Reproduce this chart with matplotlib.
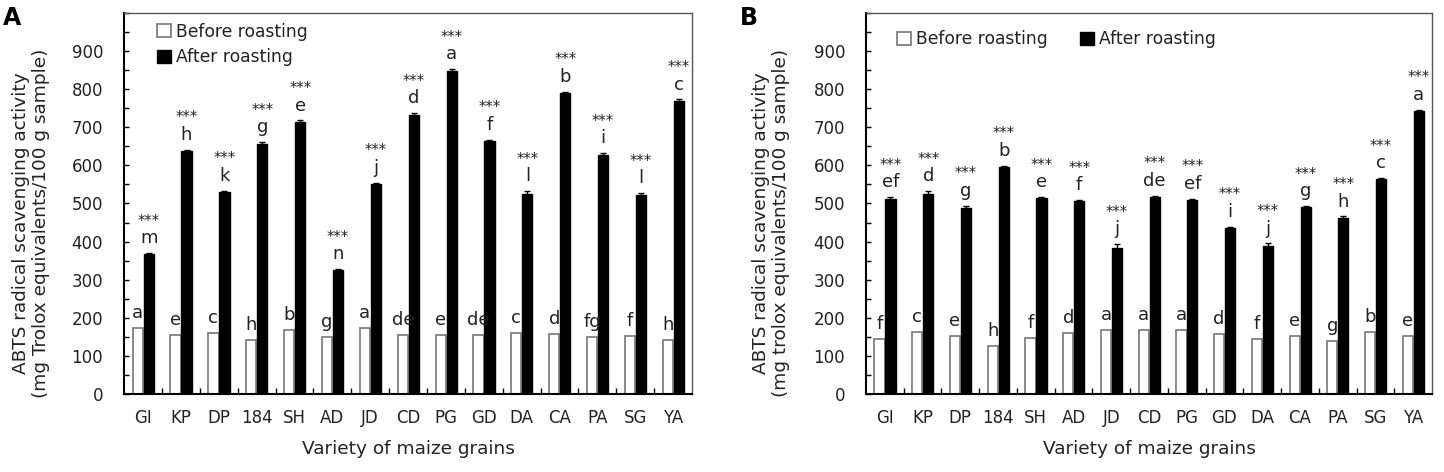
import numpy as np
import matplotlib.pyplot as plt
from matplotlib.ticker import MultipleLocator, FixedLocator

plt.rcParams['font.family'] = 'DejaVu Sans'

varieties = ['GI', 'KP', 'DP', '184', 'SH', 'AD', 'JD', 'CD', 'PG', 'GD', 'DA', 'CA', 'PA', 'SG', 'YA']

# panel A
a_before = [174, 155, 161, 141, 169, 149, 174, 155, 155, 156, 161, 158, 149, 153, 142]
a_after = [367, 637, 529, 657, 715, 325, 551, 733, 848, 663, 524, 790, 628, 523, 770]
a_after_err = [3, 4, 4, 4, 3, 3, 4, 4, 4, 4, 8, 3, 4, 4, 3]
a_before_let = ['a', 'e', 'c', 'h', 'b', 'g', 'a', 'de', 'e', 'de', 'c', 'd', 'fg', 'f', 'h']
a_after_let = ['m', 'h', 'k', 'g', 'e', 'n', 'j', 'd', 'a', 'f', 'l', 'b', 'i', 'l', 'c']

# panel B
b_before = [144, 162, 152, 125, 146, 159, 168, 168, 168, 158, 145, 153, 139, 163, 152]
b_after = [513, 526, 487, 595, 514, 506, 383, 517, 508, 436, 389, 490, 462, 564, 743]
b_after_err = [3, 6, 7, 4, 3, 3, 10, 3, 4, 3, 6, 3, 4, 3, 3]
b_before_let = ['f', 'c', 'e', 'h', 'f', 'd', 'a', 'a', 'a', 'd', 'f', 'e', 'g', 'b', 'e']
b_after_let = ['ef', 'd', 'g', 'b', 'e', 'f', 'j', 'de', 'ef', 'i', 'j', 'g', 'h', 'c', 'a']


def draw(ax, before, after, after_err, before_let, after_let, ylabel, label_x):
    x = np.arange(len(varieties))
    w = 0.27
    ekw = dict(ecolor='black', elinewidth=1, capsize=2.5, capthick=1)
    bars_b = ax.bar(x - 0.14, before, w, color='white', edgecolor='#777777',
                    linewidth=1.2, label='Before roasting')
    bars_a = ax.bar(x + 0.15, after, w, yerr=after_err, color='black', edgecolor='black',
                    linewidth=1, error_kw=ekw, label='After roasting')
    for i in range(len(x)):
        ax.text(x[i] - 0.14, before[i] + 26, before_let[i],
                ha='center', va='baseline', fontsize=13, color='#222222')
        ax.text(x[i] + 0.15, after[i] + after_err[i] + 26, after_let[i],
                ha='center', va='baseline', fontsize=13, color='#222222')
        ax.text(x[i] + 0.15, after[i] + after_err[i] + 72, '***',
                ha='center', va='baseline', fontsize=10.5, color='#222222')

    ax.set_xlim(-0.5, 14.5)
    ax.set_xticks(x)
    ax.set_xticklabels(varieties)
    ax.xaxis.set_minor_locator(FixedLocator(x[:-1] + 0.5))
    ax.tick_params(axis='x', which='major', length=0, pad=11, labelsize=12, labelcolor='#222222')
    ax.tick_params(axis='x', which='minor', direction='in', length=4, width=1)

    ax.set_ylim(0, 1000)
    ax.set_yticks(range(0, 1000, 100))
    ax.yaxis.set_minor_locator(MultipleLocator(50))
    ax.tick_params(axis='y', which='both', direction='in', length=3.5, width=1, pad=15,
                   labelsize=12, labelcolor='#222222')

    for s in ['left', 'bottom']:
        ax.spines[s].set_linewidth(1.5)
        ax.spines[s].set_color('black')
    for s in ['top', 'right']:
        ax.spines[s].set_linewidth(1)
        ax.spines[s].set_color('#555555')

    ax.set_ylabel(ylabel, fontsize=13.3, linespacing=1.15, color='#222222')
    ax.yaxis.set_label_coords(label_x, 0.449)
    ax.set_xlabel('Variety of maize grains', fontsize=13.3, labelpad=9, color='#222222')
    return bars_b, bars_a


fig = plt.figure(figsize=(14.44, 4.72), dpi=100)
axA = fig.add_axes([0.0859, 0.1653, 0.3934, 0.8072])
axB = fig.add_axes([0.5997, 0.1653, 0.392, 0.8072])

draw(axA, a_before, a_after, a_after_err, a_before_let, a_after_let,
     'ABTS radical scavenging activity\n(mg Trolox equivalents/100 g sample)', -0.130)
draw(axB, b_before, b_after, b_after_err, b_before_let, b_after_let,
     'ABTS radical scavenging activity\n(mg trolox equivalents/100 g sample)', -0.134)

axA.legend(loc='upper left', bbox_to_anchor=(0.058, 0.975), frameon=False, fontsize=12.3,
           handlelength=0.8, handleheight=0.8, handletextpad=0.3, labelspacing=0.45,
           borderpad=0, borderaxespad=0, labelcolor='#222222')
axB.legend(loc='upper left', bbox_to_anchor=(0.055, 0.955), frameon=False, fontsize=12.3, ncol=2,
           handlelength=0.8, handleheight=0.8, handletextpad=0.3, columnspacing=1.9,
           borderpad=0, borderaxespad=0, labelcolor='#222222')

fig.text(0.002, 0.947, 'A', fontsize=17, fontweight='bold')
fig.text(0.5125, 0.947, 'B', fontsize=17, fontweight='bold')

fig.savefig('out.png', dpi=100)
